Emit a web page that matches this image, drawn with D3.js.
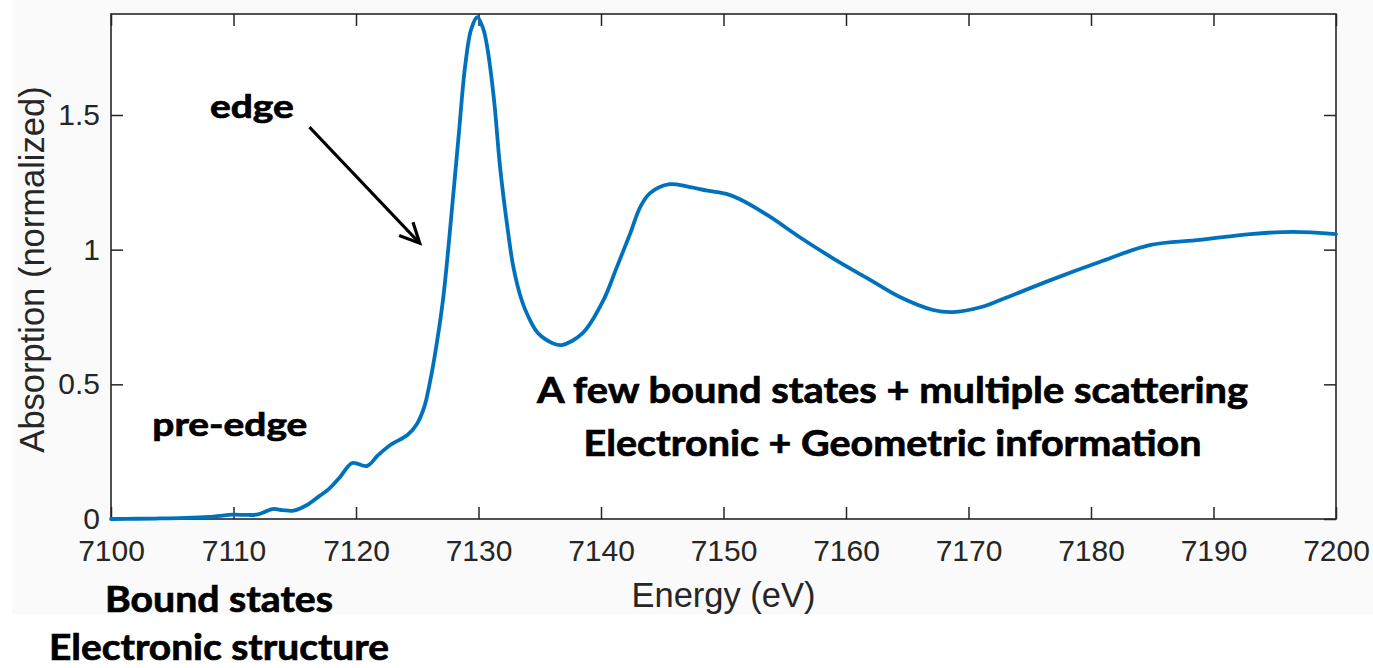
<!DOCTYPE html>
<html>
<head>
<meta charset="utf-8">
<script src="https://cdn.jsdelivr.net/npm/d3@7"></script>
<style>
  html, body { margin: 0; padding: 0; background: #ffffff; }
  svg { display: block; }
</style>
</head>
<body>
<svg id="chart" width="1373" height="668"></svg>
<script>
// Fe K-edge XANES spectrum (normalized absorption vs. incident energy)
const energy = [
  7100, 7102, 7104, 7106, 7108, 7110, 7111, 7112, 7113.2, 7114, 7114.9,
  7116, 7117, 7117.7, 7118.7, 7119.7, 7120.9, 7121.8, 7122.8, 7124.2,
  7125, 7125.6, 7126.0, 7126.4, 7127.1, 7127.9, 7128.4, 7128.9, 7129.4,
  7129.9, 7130.4, 7130.75, 7131.27, 7131.76, 7132.43, 7132.84, 7133.52, 7134.07,
  7134.88, 7136.1, 7136.8, 7138.5, 7140.2, 7141.3, 7142.4, 7143.2, 7144.0,
  7145.6, 7147.0, 7148.7, 7150.3, 7151.3, 7153.6, 7156.2, 7158.9, 7161.7,
  7164.4, 7167.1, 7168.7, 7171.2, 7172.6, 7176.7, 7180.7, 7184.8, 7188.9,
  7193.0, 7196.5, 7200
];
const absorption = [
  0.000, 0.001, 0.002, 0.004, 0.008, 0.016, 0.015, 0.017, 0.037, 0.033, 0.031,
  0.052, 0.085, 0.108, 0.156, 0.208, 0.197, 0.237, 0.275, 0.312,
  0.355, 0.420, 0.500, 0.598, 0.813, 1.184, 1.433, 1.678, 1.818,
  1.863, 1.818, 1.741, 1.555, 1.307, 1.060, 0.937, 0.813, 0.751,
  0.689, 0.652, 0.646, 0.690, 0.813, 0.936, 1.062, 1.158, 1.210,
  1.243, 1.235, 1.219, 1.206, 1.188, 1.128, 1.047, 0.969, 0.895,
  0.824, 0.776, 0.768, 0.789, 0.813, 0.887, 0.954, 1.017, 1.036,
  1.058, 1.066, 1.058
];

const xTicks = [7100, 7110, 7120, 7130, 7140, 7150, 7160, 7170, 7180, 7190, 7200];
const yTicks = [0, 0.5, 1, 1.5];
const xDomain = [7100, 7200];
const yDomain = [0, 1.875];

const xTitle = "Energy (eV)";
const yTitle = "Absorption (normalized)";

// Region annotations: [text, energy, absorption] placed inside the axes
const regionLabels = [
  ["edge", 7111.5, 1.49],
  ["pre-edge", 7109.7, 0.31],
  ["A few bound states + multiple scattering", 7163.8, 0.43],
  ["Electronic + Geometric information", 7163.8, 0.235]
];
const regionLabelWidths = [84, 155, 711, 618];
const regionLabelSizes = [32, 32, 36, 36];
// Arrow pointing at the rising edge: [from energy, from absorption, to energy, to absorption]
const edgeArrow = [7116.2, 1.455, 7125.2, 1.024];

const svg = d3.select("#chart");
const margin = { left: 111, top: 14, right: 1373 - 1336, bottom: 668 - 519 };
const W = 1373, H = 668;

const x = d3.scaleLinear().domain(xDomain).range([margin.left, W - margin.right]);
const y = d3.scaleLinear().domain(yDomain).range([H - margin.bottom, margin.top]);

const axisColor = "#262626";
const axisFont = "'Liberation Sans', Arial, Helvetica, sans-serif";
const noteFont = "Lato, 'Open Sans', sans-serif";

// figure background and white axes area
svg.append("rect").attr("x", 12).attr("y", 0).attr("width", W - 12).attr("height", 614)
  .attr("fill", "#fafafa");
svg.append("rect")
  .attr("x", x.range()[0]).attr("y", y.range()[1])
  .attr("width", x.range()[1] - x.range()[0])
  .attr("height", y.range()[0] - y.range()[1])
  .attr("fill", "#ffffff");

const tickLen = 12;

function styleAxis(g, showText) {
  g.select(".domain").remove();
  g.selectAll(".tick line").attr("stroke", axisColor).attr("stroke-width", 1.5);
  g.selectAll(".tick text")
    .attr("fill", axisColor)
    .style("font-family", axisFont)
    .style("font-size", "30px");
  if (!showText) g.selectAll(".tick text").remove();
}

svg.append("g")
  .attr("transform", `translate(0,${y.range()[0]})`)
  .call(d3.axisBottom(x).tickValues(xTicks).tickFormat(d3.format("d"))
    .tickSizeInner(-tickLen).tickSizeOuter(0).tickPadding(21))
  .call(g => styleAxis(g, true));

svg.append("g")
  .attr("transform", `translate(0,${y.range()[1]})`)
  .call(d3.axisTop(x).tickValues(xTicks).tickSizeInner(-tickLen).tickSizeOuter(0))
  .call(g => styleAxis(g, false));

svg.append("g")
  .attr("transform", `translate(${x.range()[0]},0)`)
  .call(d3.axisLeft(y).tickValues(yTicks).tickFormat(d => d3.format("")(d))
    .tickSizeInner(-tickLen).tickSizeOuter(0).tickPadding(11))
  .call(g => styleAxis(g, true));

svg.append("g")
  .attr("transform", `translate(${x.range()[1]},0)`)
  .call(d3.axisRight(y).tickValues(yTicks).tickSizeInner(-tickLen).tickSizeOuter(0))
  .call(g => styleAxis(g, false));

// axes box
svg.append("rect")
  .attr("x", x.range()[0]).attr("y", y.range()[1])
  .attr("width", x.range()[1] - x.range()[0])
  .attr("height", y.range()[0] - y.range()[1])
  .attr("fill", "none").attr("stroke", axisColor).attr("stroke-width", 1.6);

// axis titles
svg.append("text")
  .attr("x", (x.range()[0] + x.range()[1]) / 2)
  .attr("y", 607)
  .attr("text-anchor", "middle")
  .attr("fill", axisColor)
  .style("font-family", axisFont).style("font-size", "34.5px")
  .text(xTitle);

svg.append("text")
  .attr("transform", `translate(44,${(y.range()[0] + y.range()[1]) / 2 + 3}) rotate(-90)`)
  .attr("text-anchor", "middle")
  .attr("fill", axisColor)
  .style("font-family", axisFont).style("font-size", "34.5px")
  .text(yTitle);

// spectrum
const line = d3.line()
  .x((d, i) => x(energy[i]))
  .y(d => y(d))
  .curve(d3.curveCatmullRom.alpha(0.5));

svg.append("path")
  .datum(absorption)
  .attr("d", line)
  .attr("fill", "none")
  .attr("stroke", "#0072BD")
  .attr("stroke-width", 3.8)
  .attr("stroke-linejoin", "round")
  .attr("stroke-linecap", "round");

// region annotations
regionLabels.forEach(([txt, e, a], i) => {
  svg.append("text")
    .attr("x", x(e)).attr("y", y(a))
    .attr("text-anchor", "middle")
    .attr("textLength", regionLabelWidths[i])
    .attr("lengthAdjust", "spacingAndGlyphs")
    .attr("fill", "#000")
    .attr("stroke", "#000").attr("stroke-width", 0.7)
    .style("font-family", noteFont).style("font-weight", 700)
    .style("font-size", regionLabelSizes[i] + "px")
    .text(txt);
});

// edge arrow
const [ae0, aa0, ae1, aa1] = edgeArrow;
const x0 = x(ae0), y0 = y(aa0), x1 = x(ae1), y1 = y(aa1);
const ang = Math.atan2(y1 - y0, x1 - x0);
const headLen = 22, headSpread = 0.45;
svg.append("line")
  .attr("x1", x0).attr("y1", y0).attr("x2", x1 - 1.5 * Math.cos(ang)).attr("y2", y1 - 1.5 * Math.sin(ang))
  .attr("stroke", "#000").attr("stroke-width", 3);
svg.append("path")
  .attr("d", `M${x1 - headLen * Math.cos(ang - headSpread)},${y1 - headLen * Math.sin(ang - headSpread)}
              L${x1},${y1}
              L${x1 - headLen * Math.cos(ang + headSpread)},${y1 - headLen * Math.sin(ang + headSpread)}`)
  .attr("fill", "none").attr("stroke", "#000").attr("stroke-width", 3.2)
  .attr("stroke-linejoin", "miter");

// notes beneath the energy axis
const belowNotes = [["Bound states", 219, 612, 228], ["Electronic structure", 219, 660, 340]];
belowNotes.forEach(([txt, cx, by, w]) => {
  svg.append("text")
    .attr("x", cx).attr("y", by)
    .attr("text-anchor", "middle")
    .attr("textLength", w)
    .attr("lengthAdjust", "spacingAndGlyphs")
    .attr("fill", "#000")
    .attr("stroke", "#000").attr("stroke-width", 0.7)
    .style("font-family", noteFont).style("font-weight", 700)
    .style("font-size", "36px")
    .text(txt);
});
</script>
</body>
</html>
